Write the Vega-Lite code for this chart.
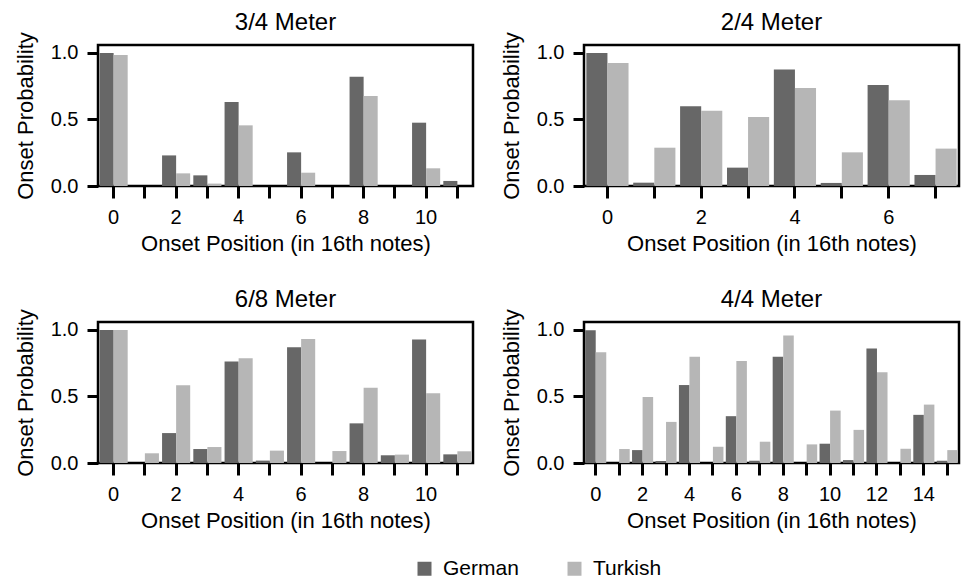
{
  "$schema": "https://vega.github.io/schema/vega-lite/v6.json",
  "background": "white",
  "padding": {"left": 12, "top": 9, "right": 8, "bottom": 5},
  "config": {"view": {"stroke": "black", "strokeWidth": 2.5}},
  "data": {"values": [
    {"meter": "3/4", "pos": 0, "lang": "German", "p": 1.0}, {"meter": "3/4", "pos": 0, "lang": "Turkish", "p": 0.985},
    {"meter": "3/4", "pos": 1, "lang": "German", "p": 0.0}, {"meter": "3/4", "pos": 1, "lang": "Turkish", "p": 0.0},
    {"meter": "3/4", "pos": 2, "lang": "German", "p": 0.23}, {"meter": "3/4", "pos": 2, "lang": "Turkish", "p": 0.095},
    {"meter": "3/4", "pos": 3, "lang": "German", "p": 0.08}, {"meter": "3/4", "pos": 3, "lang": "Turkish", "p": 0.018},
    {"meter": "3/4", "pos": 4, "lang": "German", "p": 0.632}, {"meter": "3/4", "pos": 4, "lang": "Turkish", "p": 0.456},
    {"meter": "3/4", "pos": 5, "lang": "German", "p": 0.0}, {"meter": "3/4", "pos": 5, "lang": "Turkish", "p": 0.0},
    {"meter": "3/4", "pos": 6, "lang": "German", "p": 0.253}, {"meter": "3/4", "pos": 6, "lang": "Turkish", "p": 0.1},
    {"meter": "3/4", "pos": 7, "lang": "German", "p": 0.0}, {"meter": "3/4", "pos": 7, "lang": "Turkish", "p": 0.0},
    {"meter": "3/4", "pos": 8, "lang": "German", "p": 0.822}, {"meter": "3/4", "pos": 8, "lang": "Turkish", "p": 0.677},
    {"meter": "3/4", "pos": 9, "lang": "German", "p": 0.0}, {"meter": "3/4", "pos": 9, "lang": "Turkish", "p": 0.0},
    {"meter": "3/4", "pos": 10, "lang": "German", "p": 0.476}, {"meter": "3/4", "pos": 10, "lang": "Turkish", "p": 0.133},
    {"meter": "3/4", "pos": 11, "lang": "German", "p": 0.038}, {"meter": "3/4", "pos": 11, "lang": "Turkish", "p": 0.0},

    {"meter": "2/4", "pos": 0, "lang": "German", "p": 1.0}, {"meter": "2/4", "pos": 0, "lang": "Turkish", "p": 0.925},
    {"meter": "2/4", "pos": 1, "lang": "German", "p": 0.025}, {"meter": "2/4", "pos": 1, "lang": "Turkish", "p": 0.288},
    {"meter": "2/4", "pos": 2, "lang": "German", "p": 0.6}, {"meter": "2/4", "pos": 2, "lang": "Turkish", "p": 0.566},
    {"meter": "2/4", "pos": 3, "lang": "German", "p": 0.138}, {"meter": "2/4", "pos": 3, "lang": "Turkish", "p": 0.519},
    {"meter": "2/4", "pos": 4, "lang": "German", "p": 0.875}, {"meter": "2/4", "pos": 4, "lang": "Turkish", "p": 0.737},
    {"meter": "2/4", "pos": 5, "lang": "German", "p": 0.023}, {"meter": "2/4", "pos": 5, "lang": "Turkish", "p": 0.253},
    {"meter": "2/4", "pos": 6, "lang": "German", "p": 0.759}, {"meter": "2/4", "pos": 6, "lang": "Turkish", "p": 0.644},
    {"meter": "2/4", "pos": 7, "lang": "German", "p": 0.083}, {"meter": "2/4", "pos": 7, "lang": "Turkish", "p": 0.281},

    {"meter": "6/8", "pos": 0, "lang": "German", "p": 1.0}, {"meter": "6/8", "pos": 0, "lang": "Turkish", "p": 1.0},
    {"meter": "6/8", "pos": 1, "lang": "German", "p": 0.0}, {"meter": "6/8", "pos": 1, "lang": "Turkish", "p": 0.073},
    {"meter": "6/8", "pos": 2, "lang": "German", "p": 0.225}, {"meter": "6/8", "pos": 2, "lang": "Turkish", "p": 0.585},
    {"meter": "6/8", "pos": 3, "lang": "German", "p": 0.105}, {"meter": "6/8", "pos": 3, "lang": "Turkish", "p": 0.12},
    {"meter": "6/8", "pos": 4, "lang": "German", "p": 0.763}, {"meter": "6/8", "pos": 4, "lang": "Turkish", "p": 0.788},
    {"meter": "6/8", "pos": 5, "lang": "German", "p": 0.018}, {"meter": "6/8", "pos": 5, "lang": "Turkish", "p": 0.093},
    {"meter": "6/8", "pos": 6, "lang": "German", "p": 0.87}, {"meter": "6/8", "pos": 6, "lang": "Turkish", "p": 0.933},
    {"meter": "6/8", "pos": 7, "lang": "German", "p": 0.0}, {"meter": "6/8", "pos": 7, "lang": "Turkish", "p": 0.09},
    {"meter": "6/8", "pos": 8, "lang": "German", "p": 0.298}, {"meter": "6/8", "pos": 8, "lang": "Turkish", "p": 0.565},
    {"meter": "6/8", "pos": 9, "lang": "German", "p": 0.058}, {"meter": "6/8", "pos": 9, "lang": "Turkish", "p": 0.063},
    {"meter": "6/8", "pos": 10, "lang": "German", "p": 0.928}, {"meter": "6/8", "pos": 10, "lang": "Turkish", "p": 0.525},
    {"meter": "6/8", "pos": 11, "lang": "German", "p": 0.065}, {"meter": "6/8", "pos": 11, "lang": "Turkish", "p": 0.088},

    {"meter": "4/4", "pos": 0, "lang": "German", "p": 0.998}, {"meter": "4/4", "pos": 0, "lang": "Turkish", "p": 0.833},
    {"meter": "4/4", "pos": 1, "lang": "German", "p": 0.0}, {"meter": "4/4", "pos": 1, "lang": "Turkish", "p": 0.105},
    {"meter": "4/4", "pos": 2, "lang": "German", "p": 0.097}, {"meter": "4/4", "pos": 2, "lang": "Turkish", "p": 0.496},
    {"meter": "4/4", "pos": 3, "lang": "German", "p": 0.015}, {"meter": "4/4", "pos": 3, "lang": "Turkish", "p": 0.309},
    {"meter": "4/4", "pos": 4, "lang": "German", "p": 0.586}, {"meter": "4/4", "pos": 4, "lang": "Turkish", "p": 0.798},
    {"meter": "4/4", "pos": 5, "lang": "German", "p": 0.0}, {"meter": "4/4", "pos": 5, "lang": "Turkish", "p": 0.122},
    {"meter": "4/4", "pos": 6, "lang": "German", "p": 0.352}, {"meter": "4/4", "pos": 6, "lang": "Turkish", "p": 0.766},
    {"meter": "4/4", "pos": 7, "lang": "German", "p": 0.017}, {"meter": "4/4", "pos": 7, "lang": "Turkish", "p": 0.16},
    {"meter": "4/4", "pos": 8, "lang": "German", "p": 0.798}, {"meter": "4/4", "pos": 8, "lang": "Turkish", "p": 0.958},
    {"meter": "4/4", "pos": 9, "lang": "German", "p": 0.0}, {"meter": "4/4", "pos": 9, "lang": "Turkish", "p": 0.14},
    {"meter": "4/4", "pos": 10, "lang": "German", "p": 0.145}, {"meter": "4/4", "pos": 10, "lang": "Turkish", "p": 0.394},
    {"meter": "4/4", "pos": 11, "lang": "German", "p": 0.022}, {"meter": "4/4", "pos": 11, "lang": "Turkish", "p": 0.249},
    {"meter": "4/4", "pos": 12, "lang": "German", "p": 0.86}, {"meter": "4/4", "pos": 12, "lang": "Turkish", "p": 0.683},
    {"meter": "4/4", "pos": 13, "lang": "German", "p": 0.0}, {"meter": "4/4", "pos": 13, "lang": "Turkish", "p": 0.107},
    {"meter": "4/4", "pos": 14, "lang": "German", "p": 0.362}, {"meter": "4/4", "pos": 14, "lang": "Turkish", "p": 0.439},
    {"meter": "4/4", "pos": 15, "lang": "German", "p": 0.017}, {"meter": "4/4", "pos": 15, "lang": "Turkish", "p": 0.097}
  ]},
  "columns": 2,
  "spacing": {"row": 30, "column": 23},
  "resolve": {"scale": {"x": "independent", "xOffset": "independent"}},
  "concat": [
    {"title": {"text": "3/4 Meter", "fontSize": 24, "fontWeight": "normal", "color": "black", "anchor": "middle", "offset": -3, "frame": "group", "font": "Liberation Sans"},
     "width": 375, "height": 141, "view": {"stroke": "black", "strokeWidth": 2.5},
     "transform": [{"filter": "datum.meter == '3/4'"}], "mark": {"type": "bar"},
     "encoding": {
       "x": {"field": "pos", "type": "ordinal", "title": "Onset Position (in 16th notes)", "scale": {"paddingInner": 0.1, "paddingOuter": 0.05},
             "axis": {"labelAngle": 0, "domain": false, "tickColor": "black", "tickWidth": 3, "tickSize": 12, "labelPadding": 9, "titlePadding": 6, "labelFont": "Liberation Sans", "titleFont": "Liberation Sans", "labelFontSize": 20, "titleFontSize": 22, "titleFontWeight": "normal", "labelColor": "black", "titleColor": "black", "labelExpr": "datum.value % 2 == 0 ? datum.label : ''"}},
       "xOffset": {"field": "lang", "type": "nominal"},
       "y": {"field": "p", "type": "quantitative", "title": "Onset Probability", "scale": {"domain": [0, 1.06], "nice": false},
             "axis": {"values": [0, 0.5, 1], "format": ".1f", "grid": false, "domain": false, "tickColor": "black", "tickWidth": 3, "tickSize": 11, "labelPadding": 9, "titlePadding": 13, "labelFont": "Liberation Sans", "titleFont": "Liberation Sans", "labelFontSize": 20, "titleFontSize": 22, "titleFontWeight": "normal", "labelColor": "black", "titleColor": "black"}},
       "color": {"field": "lang", "type": "nominal", "title": null, "scale": {"range": ["#676767", "#b6b6b6"]},
                 "legend": {"orient": "none", "legendX": 316, "legendY": 513, "direction": "horizontal", "symbolType": "square", "symbolSize": 196, "symbolStrokeWidth": 0, "labelFontSize": 21, "labelFont": "Liberation Sans", "labelColor": "black", "labelOffset": 8, "columnPadding": 45}}
     }},
    {"title": {"text": "2/4 Meter", "fontSize": 24, "fontWeight": "normal", "color": "black", "anchor": "middle", "offset": -3, "frame": "group", "font": "Liberation Sans"},
     "width": 375, "height": 141, "view": {"stroke": "black", "strokeWidth": 2.5},
     "transform": [{"filter": "datum.meter == '2/4'"}], "mark": {"type": "bar"},
     "encoding": {
       "x": {"field": "pos", "type": "ordinal", "title": "Onset Position (in 16th notes)", "scale": {"paddingInner": 0.1, "paddingOuter": 0.05},
             "axis": {"labelAngle": 0, "domain": false, "tickColor": "black", "tickWidth": 3, "tickSize": 12, "labelPadding": 9, "titlePadding": 6, "labelFont": "Liberation Sans", "titleFont": "Liberation Sans", "labelFontSize": 20, "titleFontSize": 22, "titleFontWeight": "normal", "labelColor": "black", "titleColor": "black", "labelExpr": "datum.value % 2 == 0 ? datum.label : ''"}},
       "xOffset": {"field": "lang", "type": "nominal"},
       "y": {"field": "p", "type": "quantitative", "title": "Onset Probability", "scale": {"domain": [0, 1.06], "nice": false},
             "axis": {"values": [0, 0.5, 1], "format": ".1f", "grid": false, "domain": false, "tickColor": "black", "tickWidth": 3, "tickSize": 11, "labelPadding": 9, "titlePadding": 13, "labelFont": "Liberation Sans", "titleFont": "Liberation Sans", "labelFontSize": 20, "titleFontSize": 22, "titleFontWeight": "normal", "labelColor": "black", "titleColor": "black"}},
       "color": {"field": "lang", "type": "nominal", "title": null, "scale": {"range": ["#676767", "#b6b6b6"]}}
     }},
    {"title": {"text": "6/8 Meter", "fontSize": 24, "fontWeight": "normal", "color": "black", "anchor": "middle", "offset": -3, "frame": "group", "font": "Liberation Sans"},
     "width": 375, "height": 141, "view": {"stroke": "black", "strokeWidth": 2.5},
     "transform": [{"filter": "datum.meter == '6/8'"}], "mark": {"type": "bar"},
     "encoding": {
       "x": {"field": "pos", "type": "ordinal", "title": "Onset Position (in 16th notes)", "scale": {"paddingInner": 0.1, "paddingOuter": 0.05},
             "axis": {"labelAngle": 0, "domain": false, "tickColor": "black", "tickWidth": 3, "tickSize": 12, "labelPadding": 9, "titlePadding": 6, "labelFont": "Liberation Sans", "titleFont": "Liberation Sans", "labelFontSize": 20, "titleFontSize": 22, "titleFontWeight": "normal", "labelColor": "black", "titleColor": "black", "labelExpr": "datum.value % 2 == 0 ? datum.label : ''"}},
       "xOffset": {"field": "lang", "type": "nominal"},
       "y": {"field": "p", "type": "quantitative", "title": "Onset Probability", "scale": {"domain": [0, 1.06], "nice": false},
             "axis": {"values": [0, 0.5, 1], "format": ".1f", "grid": false, "domain": false, "tickColor": "black", "tickWidth": 3, "tickSize": 11, "labelPadding": 9, "titlePadding": 13, "labelFont": "Liberation Sans", "titleFont": "Liberation Sans", "labelFontSize": 20, "titleFontSize": 22, "titleFontWeight": "normal", "labelColor": "black", "titleColor": "black"}},
       "color": {"field": "lang", "type": "nominal", "title": null, "scale": {"range": ["#676767", "#b6b6b6"]}}
     }},
    {"title": {"text": "4/4 Meter", "fontSize": 24, "fontWeight": "normal", "color": "black", "anchor": "middle", "offset": -3, "frame": "group", "font": "Liberation Sans"},
     "width": 375, "height": 141, "view": {"stroke": "black", "strokeWidth": 2.5},
     "transform": [{"filter": "datum.meter == '4/4'"}], "mark": {"type": "bar"},
     "encoding": {
       "x": {"field": "pos", "type": "ordinal", "title": "Onset Position (in 16th notes)", "scale": {"paddingInner": 0.1, "paddingOuter": 0.05},
             "axis": {"labelAngle": 0, "domain": false, "tickColor": "black", "tickWidth": 3, "tickSize": 12, "labelPadding": 9, "titlePadding": 6, "labelFont": "Liberation Sans", "titleFont": "Liberation Sans", "labelFontSize": 20, "titleFontSize": 22, "titleFontWeight": "normal", "labelColor": "black", "titleColor": "black", "labelExpr": "datum.value % 2 == 0 ? datum.label : ''"}},
       "xOffset": {"field": "lang", "type": "nominal"},
       "y": {"field": "p", "type": "quantitative", "title": "Onset Probability", "scale": {"domain": [0, 1.06], "nice": false},
             "axis": {"values": [0, 0.5, 1], "format": ".1f", "grid": false, "domain": false, "tickColor": "black", "tickWidth": 3, "tickSize": 11, "labelPadding": 9, "titlePadding": 13, "labelFont": "Liberation Sans", "titleFont": "Liberation Sans", "labelFontSize": 20, "titleFontSize": 22, "titleFontWeight": "normal", "labelColor": "black", "titleColor": "black"}},
       "color": {"field": "lang", "type": "nominal", "title": null, "scale": {"range": ["#676767", "#b6b6b6"]}}
     }}
  ]
}
